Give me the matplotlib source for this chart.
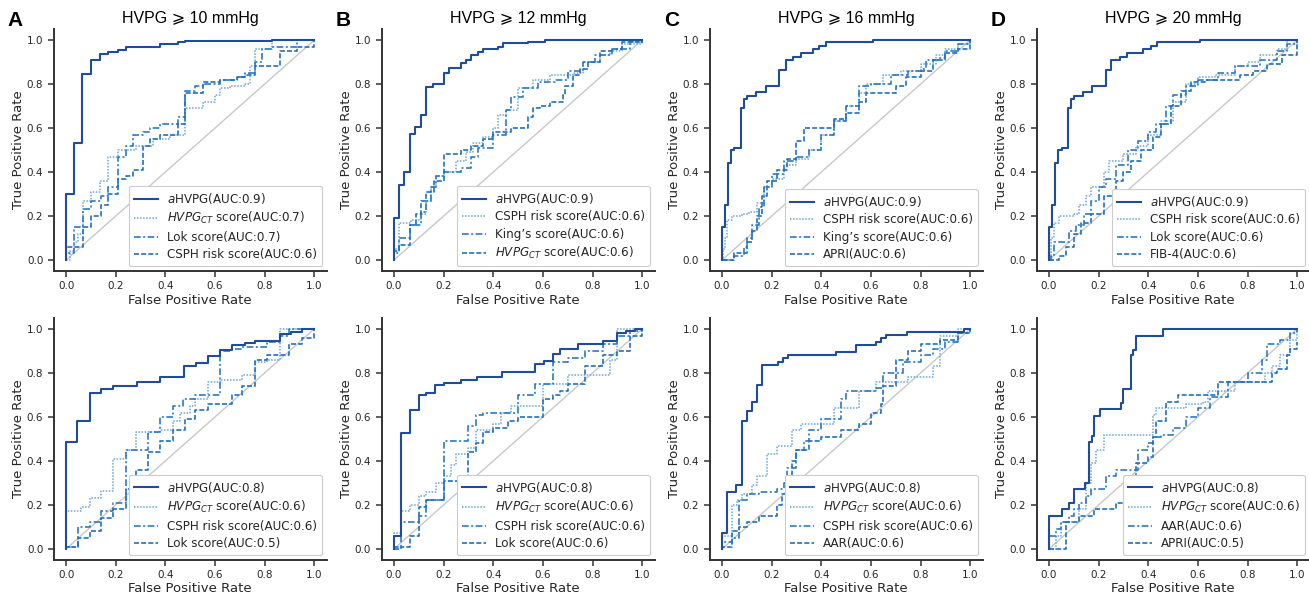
import matplotlib
matplotlib.use("Agg")
import matplotlib.pyplot as plt

# ---------------- data (ROC knee points: fpr, tpr) ----------------
# Panel A top: HVPG >= 10 mmHg (training)
A1_aHVPG_fpr = [0, 0, 0.031, 0.066, 0.10, 0.135, 0.17, 0.21, 0.24, 0.38, 0.45, 0.48, 0.83, 1.0]
A1_aHVPG_tpr = [0, 0.30, 0.53, 0.845, 0.91, 0.935, 0.945, 0.955, 0.97, 0.98, 0.99, 0.997, 1.0, 1.0]
A1_s2_fpr = [0, 0.015, 0.03, 0.05, 0.07, 0.10, 0.135, 0.17, 0.21, 0.28, 0.35, 0.42, 0.48, 0.55, 0.60, 0.62, 0.66, 0.72, 0.74, 0.76, 0.83, 1.0]
A1_s2_tpr = [0, 0.04, 0.08, 0.12, 0.27, 0.31, 0.36, 0.47, 0.50, 0.52, 0.55, 0.57, 0.69, 0.72, 0.75, 0.78, 0.79, 0.80, 0.88, 0.96, 1.0, 1.0]
A1_s3_fpr = [0, 0, 0.03, 0.07, 0.10, 0.14, 0.17, 0.21, 0.24, 0.27, 0.31, 0.34, 0.38, 0.45, 0.48, 0.52, 0.55, 0.62, 0.69, 0.72, 0.76, 0.79, 0.83, 0.93, 1.0]
A1_s3_tpr = [0, 0.03, 0.15, 0.23, 0.27, 0.29, 0.33, 0.47, 0.52, 0.57, 0.58, 0.60, 0.62, 0.65, 0.77, 0.79, 0.80, 0.82, 0.83, 0.85, 0.90, 0.96, 0.97, 1.0, 1.0]
A1_s4_fpr = [0, 0, 0.07, 0.10, 0.14, 0.17, 0.21, 0.24, 0.27, 0.31, 0.34, 0.38, 0.45, 0.48, 0.55, 0.62, 0.69, 0.72, 0.76, 0.86, 0.93, 1.0]
A1_s4_tpr = [0, 0.06, 0.15, 0.20, 0.25, 0.30, 0.37, 0.38, 0.41, 0.52, 0.55, 0.57, 0.62, 0.76, 0.81, 0.82, 0.83, 0.84, 0.88, 0.95, 0.97, 1.0]

# Panel B top: HVPG >= 12 mmHg
B1_aHVPG_fpr = [0, 0, 0.022, 0.042, 0.065, 0.085, 0.11, 0.13, 0.156, 0.20, 0.22, 0.27, 0.29, 0.31, 0.34, 0.36, 0.42, 0.44, 0.54, 0.61, 1.0]
B1_aHVPG_tpr = [0, 0.19, 0.34, 0.40, 0.575, 0.605, 0.66, 0.785, 0.80, 0.85, 0.875, 0.894, 0.91, 0.93, 0.947, 0.957, 0.97, 0.985, 0.992, 1.0, 1.0]
B1_s2_fpr = [0, 0, 0.02, 0.07, 0.11, 0.13, 0.15, 0.17, 0.20, 0.25, 0.29, 0.32, 0.36, 0.40, 0.42, 0.45, 0.50, 0.56, 0.63, 0.72, 0.76, 0.83, 0.87, 0.92, 1.0]
B1_s2_tpr = [0, 0.05, 0.17, 0.18, 0.21, 0.27, 0.33, 0.38, 0.40, 0.45, 0.49, 0.53, 0.56, 0.60, 0.66, 0.68, 0.78, 0.82, 0.84, 0.85, 0.90, 0.93, 0.95, 0.98, 1.0]
B1_s3_fpr = [0, 0, 0.02, 0.065, 0.11, 0.13, 0.15, 0.17, 0.20, 0.27, 0.31, 0.34, 0.40, 0.45, 0.47, 0.52, 0.58, 0.65, 0.70, 0.76, 0.81, 0.88, 0.95, 1.0]
B1_s3_tpr = [0, 0.03, 0.10, 0.16, 0.22, 0.27, 0.33, 0.38, 0.40, 0.42, 0.47, 0.51, 0.57, 0.68, 0.74, 0.78, 0.81, 0.82, 0.86, 0.90, 0.93, 0.96, 0.99, 1.0]
B1_s4_fpr = [0, 0, 0.02, 0.065, 0.09, 0.11, 0.13, 0.16, 0.20, 0.27, 0.31, 0.36, 0.40, 0.47, 0.54, 0.56, 0.59, 0.63, 0.68, 0.69, 0.72, 0.75, 0.78, 0.83, 0.88, 0.92, 1.0]
B1_s4_tpr = [0, 0.04, 0.07, 0.16, 0.21, 0.27, 0.31, 0.36, 0.48, 0.50, 0.52, 0.55, 0.58, 0.60, 0.65, 0.69, 0.70, 0.72, 0.75, 0.79, 0.84, 0.87, 0.90, 0.95, 0.96, 0.99, 1.0]

# Panel C top: HVPG >= 16 mmHg
C1_aHVPG_fpr = [0, 0, 0.014, 0.023, 0.037, 0.05, 0.075, 0.088, 0.10, 0.135, 0.176, 0.228, 0.257, 0.285, 0.32, 0.365, 0.39, 0.42, 0.61, 1.0]
C1_aHVPG_tpr = [0, 0.15, 0.25, 0.44, 0.50, 0.51, 0.69, 0.73, 0.745, 0.765, 0.79, 0.865, 0.91, 0.925, 0.94, 0.96, 0.975, 0.99, 1.0, 1.0]
C1_s2_fpr = [0, 0.005, 0.01, 0.02, 0.04, 0.08, 0.11, 0.14, 0.17, 0.20, 0.25, 0.30, 0.35, 0.40, 0.45, 0.50, 0.55, 0.58, 0.65, 0.72, 0.80, 0.86, 0.90, 0.95, 1.0]
C1_s2_tpr = [0, 0.05, 0.10, 0.18, 0.20, 0.21, 0.22, 0.26, 0.33, 0.37, 0.43, 0.46, 0.50, 0.57, 0.63, 0.70, 0.76, 0.80, 0.84, 0.86, 0.89, 0.93, 0.96, 0.98, 1.0]
C1_s3_fpr = [0, 0.05, 0.09, 0.10, 0.12, 0.15, 0.17, 0.20, 0.25, 0.30, 0.35, 0.40, 0.45, 0.50, 0.55, 0.60, 0.68, 0.75, 0.80, 0.82, 0.87, 0.90, 0.95, 1.0]
C1_s3_tpr = [0, 0.02, 0.06, 0.10, 0.16, 0.24, 0.33, 0.39, 0.45, 0.47, 0.50, 0.57, 0.63, 0.70, 0.79, 0.80, 0.84, 0.86, 0.87, 0.91, 0.92, 0.95, 0.98, 1.0]
C1_s4_fpr = [0, 0.05, 0.10, 0.12, 0.14, 0.16, 0.18, 0.22, 0.26, 0.30, 0.33, 0.40, 0.45, 0.50, 0.55, 0.58, 0.65, 0.70, 0.74, 0.80, 0.85, 0.90, 0.95, 1.0]
C1_s4_tpr = [0, 0.03, 0.08, 0.13, 0.20, 0.29, 0.36, 0.41, 0.46, 0.54, 0.60, 0.60, 0.64, 0.67, 0.72, 0.76, 0.76, 0.79, 0.83, 0.86, 0.91, 0.94, 0.96, 1.0]

# Panel D top: HVPG >= 20 mmHg
D1_aHVPG_fpr = [0, 0, 0.012, 0.023, 0.036, 0.054, 0.077, 0.09, 0.10, 0.137, 0.175, 0.23, 0.25, 0.286, 0.315, 0.38, 0.41, 0.434, 0.61, 1.0]
D1_aHVPG_tpr = [0, 0.15, 0.25, 0.44, 0.50, 0.51, 0.69, 0.73, 0.745, 0.765, 0.79, 0.865, 0.91, 0.925, 0.94, 0.96, 0.975, 0.99, 1.0, 1.0]
D1_s2_fpr = [0, 0.01, 0.02, 0.04, 0.10, 0.12, 0.15, 0.17, 0.22, 0.24, 0.30, 0.35, 0.40, 0.45, 0.50, 0.55, 0.60, 0.67, 0.75, 0.80, 0.85, 0.92, 0.96, 1.0]
D1_s2_tpr = [0, 0.10, 0.17, 0.20, 0.21, 0.25, 0.29, 0.33, 0.40, 0.45, 0.48, 0.52, 0.57, 0.63, 0.72, 0.80, 0.83, 0.84, 0.88, 0.90, 0.93, 0.96, 1.0, 1.0]
D1_s3_fpr = [0, 0.01, 0.02, 0.07, 0.08, 0.11, 0.14, 0.17, 0.20, 0.23, 0.27, 0.32, 0.36, 0.40, 0.43, 0.47, 0.50, 0.55, 0.60, 0.68, 0.75, 0.85, 0.92, 0.96, 1.0]
D1_s3_tpr = [0, 0.02, 0.08, 0.08, 0.13, 0.16, 0.21, 0.27, 0.33, 0.37, 0.43, 0.50, 0.54, 0.58, 0.62, 0.70, 0.75, 0.79, 0.82, 0.85, 0.88, 0.91, 0.95, 0.98, 1.0]
D1_s4_fpr = [0, 0.04, 0.07, 0.10, 0.13, 0.17, 0.22, 0.27, 0.30, 0.33, 0.37, 0.42, 0.45, 0.49, 0.53, 0.57, 0.63, 0.72, 0.77, 0.82, 0.88, 0.94, 0.99, 1.0]
D1_s4_tpr = [0, 0.02, 0.06, 0.12, 0.17, 0.21, 0.29, 0.36, 0.40, 0.45, 0.50, 0.56, 0.62, 0.70, 0.77, 0.81, 0.82, 0.82, 0.84, 0.86, 0.89, 0.93, 0.93, 1.0]

# Panel A bottom (validation)
A2_aHVPG_fpr = [0, 0, 0.044, 0.095, 0.14, 0.19, 0.285, 0.38, 0.476, 0.525, 0.57, 0.62, 0.67, 0.72, 0.76, 0.86, 0.905, 0.95, 1.0]
A2_aHVPG_tpr = [0, 0.485, 0.58, 0.71, 0.725, 0.74, 0.76, 0.78, 0.83, 0.845, 0.875, 0.905, 0.925, 0.935, 0.947, 0.977, 0.988, 1.0, 1.0]
A2_s2_fpr = [0, 0, 0.06, 0.095, 0.14, 0.19, 0.24, 0.28, 0.38, 0.43, 0.46, 0.50, 0.52, 0.57, 0.62, 0.71, 0.76, 0.81, 0.86, 1.0]
A2_s2_tpr = [0, 0.17, 0.19, 0.23, 0.265, 0.41, 0.45, 0.53, 0.54, 0.58, 0.62, 0.65, 0.68, 0.76, 0.77, 0.79, 0.85, 0.86, 1.0, 1.0]
A2_s3_fpr = [0, 0, 0.05, 0.095, 0.14, 0.19, 0.24, 0.33, 0.38, 0.43, 0.47, 0.52, 0.62, 0.67, 0.71, 0.81, 0.86, 0.90, 1.0]
A2_s3_tpr = [0, 0.01, 0.10, 0.12, 0.17, 0.21, 0.45, 0.53, 0.60, 0.65, 0.68, 0.70, 0.90, 0.91, 0.92, 0.94, 0.97, 1.0, 1.0]
A2_s4_fpr = [0, 0, 0.05, 0.095, 0.14, 0.19, 0.24, 0.28, 0.33, 0.38, 0.43, 0.48, 0.52, 0.57, 0.67, 0.71, 0.76, 0.81, 0.90, 0.95, 1.0]
A2_s4_tpr = [0, 0.01, 0.05, 0.08, 0.14, 0.18, 0.27, 0.36, 0.44, 0.49, 0.54, 0.59, 0.63, 0.66, 0.70, 0.74, 0.86, 0.88, 0.93, 0.96, 1.0]

# Panel B bottom
B2_aHVPG_fpr = [0, 0, 0.03, 0.065, 0.10, 0.13, 0.166, 0.20, 0.27, 0.335, 0.435, 0.57, 0.605, 0.64, 0.67, 0.74, 0.84, 0.90, 0.935, 0.97, 1.0]
B2_aHVPG_tpr = [0, 0.06, 0.525, 0.63, 0.70, 0.71, 0.745, 0.755, 0.77, 0.78, 0.805, 0.84, 0.855, 0.885, 0.91, 0.93, 0.945, 0.98, 0.99, 1.0, 1.0]
B2_s2_fpr = [0, 0, 0.03, 0.065, 0.10, 0.13, 0.17, 0.20, 0.23, 0.25, 0.30, 0.33, 0.40, 0.43, 0.47, 0.60, 0.70, 0.80, 0.87, 0.90, 1.0]
B2_s2_tpr = [0, 0.07, 0.17, 0.20, 0.24, 0.26, 0.30, 0.33, 0.38, 0.43, 0.46, 0.54, 0.57, 0.62, 0.65, 0.75, 0.79, 0.79, 0.86, 1.0, 1.0]
B2_s3_fpr = [0, 0, 0.03, 0.065, 0.10, 0.13, 0.20, 0.27, 0.30, 0.33, 0.36, 0.50, 0.57, 0.64, 0.70, 0.77, 0.84, 0.90, 0.95, 1.0]
B2_s3_tpr = [0, 0.01, 0.12, 0.12, 0.15, 0.22, 0.49, 0.49, 0.56, 0.61, 0.62, 0.70, 0.75, 0.85, 0.87, 0.90, 0.93, 0.97, 0.99, 1.0]
B2_s4_fpr = [0, 0.03, 0.065, 0.10, 0.13, 0.20, 0.30, 0.33, 0.36, 0.40, 0.46, 0.50, 0.60, 0.64, 0.67, 0.70, 0.77, 0.84, 0.90, 0.95, 1.0]
B2_s4_tpr = [0, 0.01, 0.06, 0.19, 0.22, 0.31, 0.44, 0.48, 0.53, 0.55, 0.58, 0.60, 0.68, 0.70, 0.72, 0.75, 0.83, 0.88, 0.90, 0.97, 1.0]

# Panel C bottom
C2_aHVPG_fpr = [0, 0, 0.02, 0.057, 0.079, 0.10, 0.12, 0.142, 0.163, 0.224, 0.244, 0.264, 0.46, 0.54, 0.62, 0.64, 0.66, 0.745, 0.975, 1.0]
C2_aHVPG_tpr = [0, 0.07, 0.26, 0.29, 0.58, 0.625, 0.67, 0.745, 0.836, 0.85, 0.87, 0.88, 0.897, 0.927, 0.942, 0.96, 0.973, 0.988, 1.0, 1.0]
C2_s2_fpr = [0, 0, 0.03, 0.04, 0.06, 0.08, 0.12, 0.14, 0.18, 0.22, 0.26, 0.28, 0.32, 0.36, 0.45, 0.55, 0.62, 0.70, 0.75, 0.85, 0.88, 0.95, 1.0]
C2_s2_tpr = [0, 0.06, 0.06, 0.20, 0.22, 0.25, 0.29, 0.33, 0.43, 0.47, 0.47, 0.54, 0.57, 0.57, 0.64, 0.72, 0.76, 0.76, 0.78, 0.83, 0.97, 1.0, 1.0]
C2_s3_fpr = [0, 0, 0.04, 0.07, 0.10, 0.15, 0.22, 0.25, 0.26, 0.30, 0.33, 0.35, 0.40, 0.48, 0.50, 0.62, 0.65, 0.73, 0.80, 0.85, 0.90, 0.95, 1.0]
C2_s3_tpr = [0, 0.03, 0.05, 0.22, 0.25, 0.26, 0.27, 0.30, 0.37, 0.45, 0.49, 0.54, 0.59, 0.68, 0.72, 0.73, 0.80, 0.85, 0.88, 0.91, 0.94, 0.98, 1.0]
C2_s4_fpr = [0, 0, 0.04, 0.07, 0.10, 0.15, 0.22, 0.24, 0.26, 0.28, 0.30, 0.35, 0.40, 0.48, 0.55, 0.60, 0.64, 0.65, 0.70, 0.75, 0.80, 0.88, 0.95, 1.0]
C2_s4_tpr = [0, 0.01, 0.08, 0.10, 0.12, 0.15, 0.20, 0.25, 0.32, 0.40, 0.45, 0.49, 0.51, 0.54, 0.57, 0.62, 0.66, 0.74, 0.86, 0.90, 0.93, 0.95, 0.98, 1.0]

# Panel D bottom
D2_aHVPG_fpr = [0, 0, 0.054, 0.08, 0.10, 0.145, 0.16, 0.175, 0.18, 0.205, 0.29, 0.30, 0.33, 0.34, 0.35, 0.46, 1.0]
D2_aHVPG_tpr = [0, 0.15, 0.18, 0.21, 0.27, 0.30, 0.485, 0.515, 0.605, 0.635, 0.665, 0.727, 0.88, 0.905, 0.97, 1.0, 1.0]
D2_s2_fpr = [0, 0.03, 0.05, 0.10, 0.12, 0.15, 0.17, 0.19, 0.22, 0.40, 0.42, 0.43, 0.55, 0.62, 0.64, 0.75, 0.85, 0.87, 0.90, 0.93, 0.97, 1.0]
D2_s2_tpr = [0, 0.06, 0.12, 0.12, 0.18, 0.30, 0.39, 0.45, 0.52, 0.52, 0.61, 0.64, 0.66, 0.67, 0.72, 0.76, 0.76, 0.80, 0.83, 0.88, 0.95, 1.0]
D2_s3_fpr = [0, 0, 0.03, 0.05, 0.08, 0.10, 0.12, 0.15, 0.17, 0.23, 0.27, 0.36, 0.40, 0.42, 0.45, 0.50, 0.55, 0.60, 0.65, 0.72, 0.80, 0.86, 0.88, 0.93, 0.97, 1.0]
D2_s3_tpr = [0, 0.06, 0.09, 0.12, 0.15, 0.18, 0.21, 0.24, 0.27, 0.33, 0.36, 0.45, 0.48, 0.51, 0.52, 0.55, 0.60, 0.64, 0.69, 0.76, 0.80, 0.86, 0.93, 0.95, 0.98, 1.0]
D2_s4_fpr = [0, 0.04, 0.07, 0.12, 0.18, 0.27, 0.32, 0.33, 0.35, 0.40, 0.42, 0.43, 0.47, 0.52, 0.68, 0.90, 0.92, 0.96, 0.97, 1.0]
D2_s4_tpr = [0, 0.0, 0.12, 0.15, 0.18, 0.21, 0.27, 0.30, 0.39, 0.42, 0.51, 0.58, 0.67, 0.70, 0.76, 0.80, 0.82, 0.88, 0.91, 0.94]

panel_letters = ["A", "B", "C", "D"]
thresholds = [10, 12, 16, 20]

labels_top = [
    [r"$\it{a}$HVPG(AUC:0.9)", r"$\it{HVPG_{CT}}$ score(AUC:0.7)", "Lok score(AUC:0.7)", "CSPH risk score(AUC:0.6)"],
    [r"$\it{a}$HVPG(AUC:0.9)", "CSPH risk score(AUC:0.6)", "King\u2019s score(AUC:0.6)", r"$\it{HVPG_{CT}}$ score(AUC:0.6)"],
    [r"$\it{a}$HVPG(AUC:0.9)", "CSPH risk score(AUC:0.6)", "King\u2019s score(AUC:0.6)", "APRI(AUC:0.6)"],
    [r"$\it{a}$HVPG(AUC:0.9)", "CSPH risk score(AUC:0.6)", "Lok score(AUC:0.6)", "FIB-4(AUC:0.6)"],
]
labels_bottom = [
    [r"$\it{a}$HVPG(AUC:0.8)", r"$\it{HVPG_{CT}}$ score(AUC:0.6)", "CSPH risk score(AUC:0.6)", "Lok score(AUC:0.5)"],
    [r"$\it{a}$HVPG(AUC:0.8)", r"$\it{HVPG_{CT}}$ score(AUC:0.6)", "CSPH risk score(AUC:0.6)", "Lok score(AUC:0.6)"],
    [r"$\it{a}$HVPG(AUC:0.8)", r"$\it{HVPG_{CT}}$ score(AUC:0.6)", "CSPH risk score(AUC:0.6)", "AAR(AUC:0.6)"],
    [r"$\it{a}$HVPG(AUC:0.8)", r"$\it{HVPG_{CT}}$ score(AUC:0.6)", "AAR(AUC:0.6)", "APRI(AUC:0.5)"],
]

curves_top = [
    [(A1_aHVPG_fpr, A1_aHVPG_tpr), (A1_s2_fpr, A1_s2_tpr), (A1_s3_fpr, A1_s3_tpr), (A1_s4_fpr, A1_s4_tpr)],
    [(B1_aHVPG_fpr, B1_aHVPG_tpr), (B1_s2_fpr, B1_s2_tpr), (B1_s3_fpr, B1_s3_tpr), (B1_s4_fpr, B1_s4_tpr)],
    [(C1_aHVPG_fpr, C1_aHVPG_tpr), (C1_s2_fpr, C1_s2_tpr), (C1_s3_fpr, C1_s3_tpr), (C1_s4_fpr, C1_s4_tpr)],
    [(D1_aHVPG_fpr, D1_aHVPG_tpr), (D1_s2_fpr, D1_s2_tpr), (D1_s3_fpr, D1_s3_tpr), (D1_s4_fpr, D1_s4_tpr)],
]
curves_bottom = [
    [(A2_aHVPG_fpr, A2_aHVPG_tpr), (A2_s2_fpr, A2_s2_tpr), (A2_s3_fpr, A2_s3_tpr), (A2_s4_fpr, A2_s4_tpr)],
    [(B2_aHVPG_fpr, B2_aHVPG_tpr), (B2_s2_fpr, B2_s2_tpr), (B2_s3_fpr, B2_s3_tpr), (B2_s4_fpr, B2_s4_tpr)],
    [(C2_aHVPG_fpr, C2_aHVPG_tpr), (C2_s2_fpr, C2_s2_tpr), (C2_s3_fpr, C2_s3_tpr), (C2_s4_fpr, C2_s4_tpr)],
    [(D2_aHVPG_fpr, D2_aHVPG_tpr), (D2_s2_fpr, D2_s2_tpr), (D2_s3_fpr, D2_s3_tpr), (D2_s4_fpr, D2_s4_tpr)],
]

# ---------------- styling ----------------
line_colors = ["#1f4c9c", "#6aa6d8", "#2b79c2", "#2170c0"]
line_styles = ["-", (0, (1, 1)), (0, (4, 1.5, 1.2, 1.5)), (0, (3, 1.3))]
line_widths = [1.5, 1.1, 1.2, 1.2]

plt.rcParams["font.family"] = ["DejaVu Sans"]
plt.rcParams["mathtext.fontset"] = "dejavusans"

fig = plt.figure(figsize=(13.09, 5.95), dpi=100)

col_left = [0.0410, 0.2915, 0.5421, 0.7919]
row_bottom = [0.5445, 0.0590]
ax_w, ax_h = 0.2086, 0.4067

def draw_panel(ax, curves, labels, xlabelpad):
    ax.plot([0, 1], [0, 1], color="#c8c8c8", lw=1.0, zorder=1)
    for k, (fx, ty) in enumerate(curves):
        ax.plot(fx, ty, drawstyle="steps-post", color=line_colors[k], ls=line_styles[k],
                lw=line_widths[k], label=labels[k], zorder=3 if k == 0 else 2)
    ax.set_xlim(-0.05, 1.05)
    ax.set_ylim(-0.05, 1.05)
    ax.set_xticks([0, 0.2, 0.4, 0.6, 0.8, 1.0])
    ax.set_yticks([0, 0.2, 0.4, 0.6, 0.8, 1.0])
    ax.tick_params(labelsize=7.5, length=4, width=1.1, colors="#333333", labelcolor="#262626")
    for s in ["top", "right"]:
        ax.spines[s].set_visible(False)
    for s in ["left", "bottom"]:
        ax.spines[s].set_linewidth(1.4)
        ax.spines[s].set_color("#333333")
    ax.set_xlabel("False Positive Rate", fontsize=9.5, labelpad=xlabelpad, color="#262626")
    ax.set_ylabel("True Positive Rate", fontsize=9.5, labelpad=1.5, color="#262626")
    leg = ax.legend(loc="lower right", fontsize=8.6, frameon=True, handlelength=2.0,
                    borderaxespad=0.4, labelspacing=0.38, framealpha=1.0, borderpad=0.4)
    leg.get_frame().set_edgecolor("#cccccc")
    leg.get_frame().set_linewidth(0.8)
    for t in leg.get_texts():
        t.set_color("#262626")

for c in range(4):
    ax_t = fig.add_axes([col_left[c], row_bottom[0], ax_w, ax_h])
    draw_panel(ax_t, curves_top[c], labels_top[c], 2)
    ax_t.set_title("HVPG \u2A7E %d mmHg" % thresholds[c], fontsize=11.5,
                   fontfamily=["Liberation Sans", "DejaVu Sans"], pad=4)
    ax_b = fig.add_axes([col_left[c], row_bottom[1], ax_w, ax_h])
    draw_panel(ax_b, curves_bottom[c], labels_bottom[c], 1)
    fig.text(col_left[c] - 0.035, 0.966, panel_letters[c], fontsize=15, fontweight="bold",
             fontfamily=["Liberation Sans", "DejaVu Sans"], va="center", ha="left")

fig.savefig("out.png", dpi=100)
